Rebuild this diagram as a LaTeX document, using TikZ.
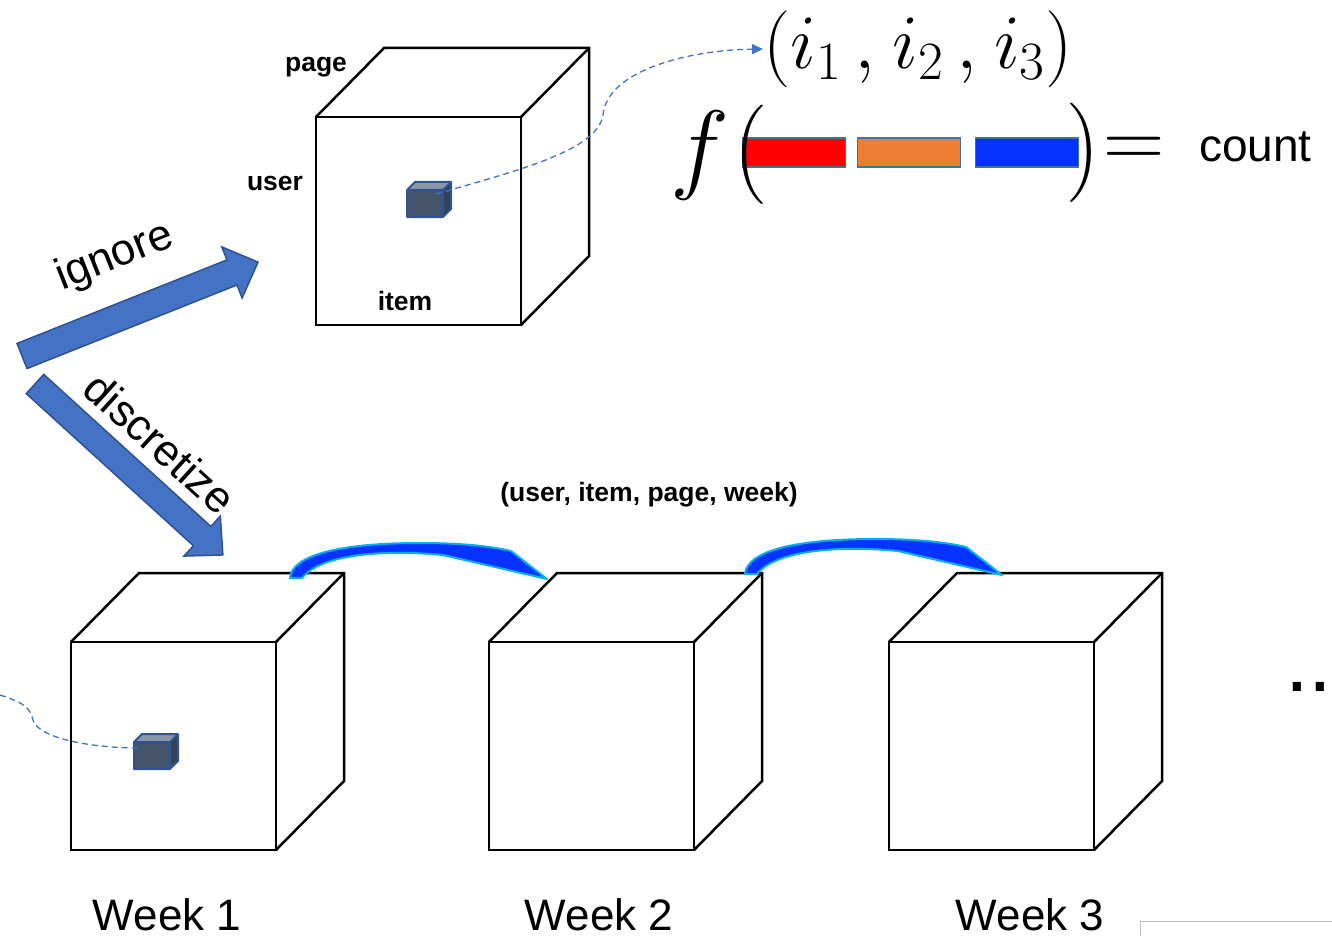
\RequirePackage{fix-cm}
\documentclass[tikz,border=0pt]{standalone}
\usepackage[no-math]{fontspec}
\newfontfamily\lsans{Liberation Sans}
\usetikzlibrary{arrows.meta}
\definecolor{arrblue}{HTML}{4472C4}
\definecolor{arrline}{HTML}{2F528F}
\definecolor{cubefront}{HTML}{44546A}
\definecolor{cubetop}{HTML}{8C96A5}
\definecolor{cubeside}{HTML}{354255}
\definecolor{cubeedge}{HTML}{2F5597}
\definecolor{barred}{HTML}{FF0000}
\definecolor{barorange}{HTML}{ED7D31}
\definecolor{barblue}{HTML}{0433FF}
\definecolor{barline}{HTML}{41719C}
\definecolor{curvfill}{HTML}{0433FF}
\definecolor{curvline}{HTML}{00B0F0}
\definecolor{dashblue}{HTML}{4472C4}
\begin{document}
\begin{tikzpicture}[x=1pt,y=-1pt,
  cubeline/.style={draw=black, line width=2.5pt, line join=miter},
  bigcube/.pic={
    \draw[cubeline] (0,0) rectangle (205,208);
    \draw[cubeline] (0,0) -- (68,-69) -- (273,-69) -- (273,139) -- (205,208);
    \draw[cubeline] (205,0) -- (273,-69);
  },
  smallcube/.pic={
    \fill[cubetop] (0,0) -- (8,-8) -- (44,-8) -- (36,0) -- cycle;
    \fill[cubeside] (36,0) -- (44,-8) -- (44,19) -- (36,27) -- cycle;
    \fill[cubefront] (0,0) rectangle (36,27);
    \draw[cubeedge, line width=2pt, line join=round] (0,0) rectangle (36,27)
      (0,0) -- (8,-8) -- (44,-8) -- (44,19) -- (36,27) (36,0) -- (44,-8);
  },
  curvarrow/.pic={
    \draw[curvline, fill=curvfill, line width=2pt, line join=round]
      (0,0) .. controls (2,-23) and (50,-35) .. (130,-35)
      .. controls (170,-35) and (200,-32) .. (221,-27) -- (257,1)
      -- (153,-23) .. controls (90,-29) and (30,-23) .. (12,0) -- cycle;
  },
  blockarrow/.style={fill=arrblue, draw=arrline, line width=1.5pt, line join=miter},
  dashline/.style={draw=dashblue, line width=1.3pt, dash pattern=on 6pt off 4pt},
  bar/.style={draw=barline, line width=1.5pt, minimum width=103pt, minimum height=29pt, inner sep=0pt},
  bigtext/.style={font=\lsans\fontsize{44}{50}\selectfont, inner sep=0pt},
  boldlbl/.style={font=\lsans\bfseries\fontsize{26.5}{30}\selectfont, inner sep=0pt},
]
\useasboundingbox (0,0) rectangle (1332,936);

% cubes
\pic at (316,117) {bigcube};
\pic at (71,642) {bigcube};
\pic at (489,642) {bigcube};
\pic at (889,642) {bigcube};

% small cubes
\pic at (407,190) {smallcube};
\pic at (134,742) {smallcube};
\coordinate (scA) at (436,194);
\coordinate (scB) at (140,748);
\coordinate (leftend) at (0,695);

% labels on top cube
\node[boldlbl] (page) at (316,67) {page};
\node[boldlbl] (user) at (275,183) {user};
\node[boldlbl] (item) at (405,301) {item};
\node[boldlbl] (tuplelbl) at (649,495) {(user, item, page, week)};

% block arrows
\begin{scope}[shift={(22,356)}, rotate=21.7]
  \draw[blockarrow] (0,-13.5) -- (226,-13.5) -- (226,-27.5) -- (254,0) -- (226,27.5) -- (226,13.5) -- (0,13.5) -- cycle;
\end{scope}
\begin{scope}[shift={(35,384)}, rotate=-42.3]
  \draw[blockarrow] (0,-13) -- (226,-13) -- (226,-27) -- (254,0) -- (226,27) -- (226,13) -- (0,13) -- cycle;
\end{scope}
\node[bigtext, rotate=21.7] (ignore) at (115,257) {ignore};
\node[bigtext, rotate=-42.3] (discretize) at (160,443) {discretize};

% curved arrows between weeks
\pic at (290,578) {curvarrow};
\pic at (745,574) {curvarrow};

% formula
\node[inner sep=0pt, font=\fontsize{77}{80}\selectfont, anchor=west] (tuple) at (763,49) {$(i_1\mkern3mu,\mkern1mu i_2\mkern3mu,\mkern1mu i_3)$};
\node[inner sep=0pt, font=\fontsize{100}{110}\selectfont] (f) at (700,156) {$f$};
\node[bar, fill=barred] (b1) at (794,152.5) {};
\node[bar, fill=barorange] (b2) at (909,152.5) {};
\node[bar, fill=barblue] (b3) at (1027,152.5) {};
\node[inner sep=0pt] (lp) at (749,155) {\scalebox{5.5}{$\Big($}};
\node[inner sep=0pt] (rp) at (1085,153) {\scalebox{5.5}{$\Big)$}};
\node[inner sep=0pt, font=\fontsize{85}{90}\selectfont] (eq) at (1134,152) {$=$};
\node[font=\lsans\fontsize{46}{50}\selectfont, inner sep=0pt, anchor=base west] (count) at (1199,162) {count};

% dashed connectors
\draw[dashline, -{Triangle[length=11pt,width=10pt]}] (scA) .. controls (520,170) and (598,150) .. (603,115)
  .. controls (607,70) and (690,50) .. (tuple.west);
\draw[dashline] (leftend) .. controls (25,703) and (30,708) .. (33,720)
  .. controls (38,738) and (90,748) .. (scB);

% week labels
\node[bigtext, anchor=base] (w1) at (167,930) {Week 1};
\node[bigtext, anchor=base] (w2) at (599,930) {Week 2};
\node[bigtext, anchor=base] (w3) at (1030,930) {Week 3};

% dots
\node[font=\lsans\fontsize{85}{90}\selectfont, inner sep=0pt, anchor=base west] (dots) at (1285,691) {...};

% faint frame fragment at bottom right
\draw[black!25, line width=1pt] (1140,936) -- (1140,921) -- (1332,921);
\end{tikzpicture}
\end{document}
